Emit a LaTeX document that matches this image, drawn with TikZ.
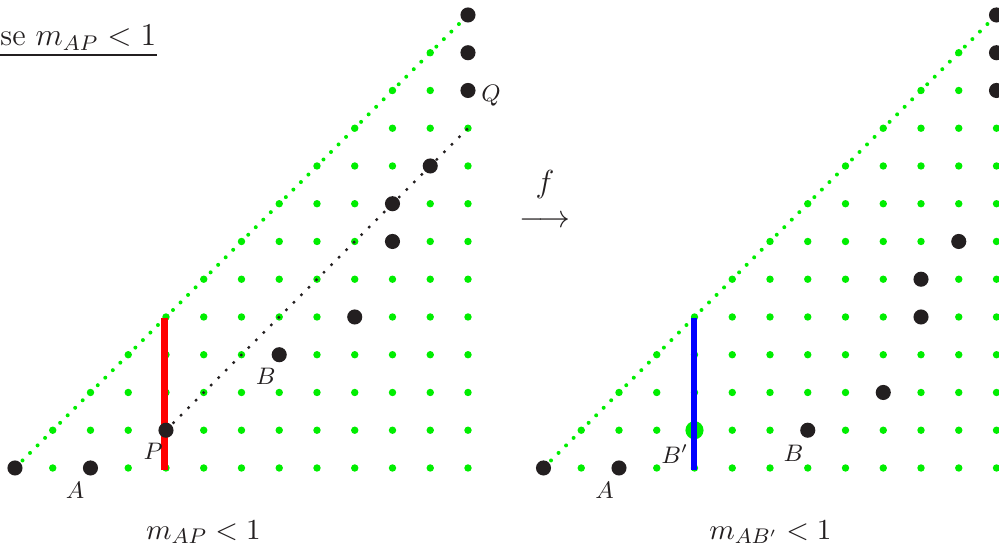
\documentclass[tikz,border=0pt]{standalone}
\usepackage{amsmath}
\usetikzlibrary{calc}
\definecolor{latc}{HTML}{00EE00}
\definecolor{inkc}{HTML}{231F20}
\definecolor{redc}{HTML}{FF0000}
\definecolor{bluec}{HTML}{0000FF}
\tikzset{
  bdot/.style={circle, fill=inkc, inner sep=0pt, minimum size=0.2cm},
  gbig/.style={circle, fill=latc, inner sep=0pt, minimum size=0.24cm},
  diag/.style={draw=latc, line width=1.5pt, line cap=round, dash pattern=on 0pt off 4.01pt},
  blk/.style={draw=inkc, line width=1.3pt, line cap=round, dash pattern=on 0pt off 4.01pt},
  bar/.style={line width=2.3pt},
  lbl/.style={font=\small, text=inkc, inner sep=0pt},
  txt/.style={font=\large, text=inkc, inner sep=0pt},
  captxt/.style={font=\fontsize{11}{13}\selectfont, text=inkc, inner sep=0pt},
}
\begin{document}
\begin{tikzpicture}[x=0.5cm, y=0.5cm]
  \useasboundingbox (-0.397,-2.093) rectangle (26.066,12.397);
  % ---- title and the map between the two pictures
  \node[txt, font=\fontsize{11.6}{14}\selectfont, anchor=base west] (title) at (-0.40,11.19) {se $m_{AP} < 1$};
  \draw[inkc, line width=0.8pt] ($(title.base west)+(0,-3.4pt)$) -- ($(title.base east)+(0,-3.4pt)$);
  \node[txt] (fname) at (14.04,7.5) {$f$};
  \node[txt] (arrow) at (14.04,6.52) {$\longrightarrow$};
  % ---- left: the segment through P
  \foreach \i in {0,...,12} {
    \foreach \j in {0,...,\i} {
      \fill[latc] (\i,\j) circle (1.4pt);
    }
  }
  \coordinate (Lorig) at (0,0);
  \coordinate (Lapex) at (12,12);
  \coordinate (Lbot) at (3.96,-0.05);
  \coordinate (Ltop) at (3.96,3.96);
  \coordinate (Lend) at (12,9);
  \draw[diag] (Lorig) -- (Lapex);
  \draw[bar, redc] (Lbot) -- (Ltop);
  \node[bdot] (O) at (Lorig) {};
  \node[bdot] (T) at (Lapex) {};
  \node[bdot] (A) at (2,0) {};
  \node[bdot] (P) at (4,1) {};
  \node[bdot] (B) at (7,3) {};
  \node[bdot] (Q) at (12,10) {};
  \foreach \n/\p in {1/{(9,4)}, 2/{(10,6)}, 3/{(10,7)}, 4/{(11,8)}, 5/{(12,11)}} {
    \node[bdot] (L\n) at \p {};
  }
  \draw[blk] (P.center) -- (Lend);
  \node[lbl] (lA) at ($(A)+(-0.41,-0.58)$) {$A$};
  \node[lbl] (lP) at ($(P)+(-0.34,-0.57)$) {$P$};
  \node[lbl] (lB) at ($(B)+(-0.36,-0.56)$) {$B$};
  \node[lbl] (lQ) at ($(Q)+(0.61,-0.13)$) {$Q$};
  \node[captxt, anchor=base] (capL) at (4.99,-1.89) {$m_{AP} < 1$};
  % ---- right: after the map, B' sits on the segment
  \begin{scope}[xshift=7cm]
    \foreach \i in {0,...,12} {
      \foreach \j in {0,...,\i} {
        \fill[latc] (\i,\j) circle (1.4pt);
      }
    }
    \coordinate (Rorig) at (0,0);
    \coordinate (Rapex) at (12,12);
    \coordinate (Rbot) at (3.98,-0.05);
    \coordinate (Rtop) at (3.98,3.96);
    \draw[diag] (Rorig) -- (Rapex);
    \node[gbig] (Bp) at (4,1) {};
    \draw[bar, bluec] (Rbot) -- (Rtop);
    \node[bdot] (O2) at (Rorig) {};
    \node[bdot] (T2) at (Rapex) {};
    \node[bdot] (A2) at (2,0) {};
    \node[bdot] (B2) at (7,1) {};
    \foreach \n/\p in {1/{(9,2)}, 2/{(10,4)}, 3/{(10,5)}, 4/{(11,6)}, 5/{(12,10)}, 6/{(12,11)}} {
      \node[bdot] (R\n) at \p {};
    }
    \node[lbl] (lA2) at ($(A2)+(-0.38,-0.58)$) {$A$};
    \node[lbl] (lBp) at ($(Bp)+(-0.52,-0.63)$) {$B'$};
    \node[lbl] (lB2) at ($(B2)+(-0.38,-0.62)$) {$B$};
    \node[captxt, anchor=base] (capR) at (6.01,-1.89) {$m_{AB'} < 1$};
  \end{scope}
\end{tikzpicture}
\end{document}
